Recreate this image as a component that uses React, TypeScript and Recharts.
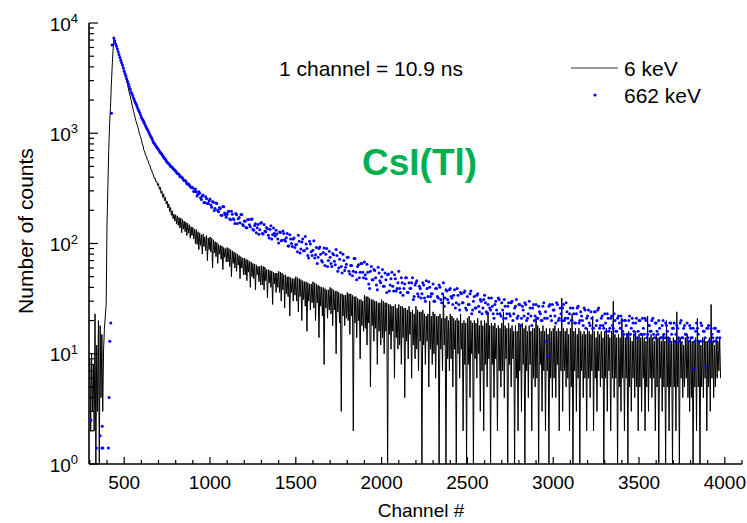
import React from 'react';
import { ComposedChart, Line, Scatter, XAxis, YAxis, Legend } from 'recharts';

const FONT = '"Liberation Sans", Arial, Helvetica, sans-serif';

// 6 keV trace: one reading every 5 channels from channel 300
const LOW_START = 300;
const LOW_STEP = 5;
const lowEnergyCounts = [
  9, 2, 10, 3, 8, 2, 23, 1, 12, 3, 20, 1, 18, 4, 15, 3, 11, 17, 22, 28,
  150, 330, 700, 1200, 1700, 2700, 4000, 5600, 7100, 6900, 6400, 6050, 5760, 5450, 5200, 4950, 4680, 4450, 4200, 3970,
  3750, 3450, 3180, 2950, 2750, 2520, 2320, 2170, 2010, 1840, 1690, 1580, 1470, 1360, 1270, 1200, 1130, 1050, 980, 930,
  880, 800, 770, 700, 675, 625, 620, 570, 565, 520, 515, 470, 468, 428, 425, 390, 392, 362, 365, 336,
  350, 310, 325, 285, 300, 262, 282, 245, 262, 228, 243, 210, 228, 195, 212, 180, 198, 168, 185, 160,
  182, 150, 178, 146, 172, 138, 170, 125, 165, 135, 160, 128, 156, 118, 152, 124, 148, 112, 142, 118,
  140, 110, 135, 100, 134, 98, 128, 88, 125, 96, 120, 80, 122, 94, 115, 86, 118, 70, 112, 88,
  115, 84, 112, 60, 108, 82, 104, 76, 102, 66, 98, 80, 96, 72, 95, 58, 92, 75, 90, 68,
  92, 68, 90, 62, 88, 50, 86, 66, 84, 60, 82, 56, 80, 64, 78, 48, 76, 60, 74, 52,
  74, 52, 72, 46, 71, 55, 69, 40, 68, 50, 66, 48, 65, 38, 64, 52, 62, 45, 62, 42,
  63, 42, 62, 38, 61, 46, 58, 32, 58, 44, 57, 40, 56, 28, 55, 43, 54, 36, 54, 40,
  56, 36, 55, 30, 54, 38, 52, 26, 52, 35, 50, 33, 50, 22, 49, 36, 48, 30, 48, 34,
  50, 30, 49, 24, 48, 33, 47, 20, 46, 31, 45, 27, 45, 16, 44, 30, 43, 25, 43, 29,
  45, 26, 44, 20, 43, 29, 42, 14, 41, 27, 40, 22, 40, 8, 39, 26, 38, 21, 38, 25,
  40, 23, 39, 18, 38, 25, 37, 10, 37, 24, 36, 19, 35, 3, 35, 22, 34, 18, 34, 21,
  36, 20, 35, 15, 35, 22, 34, 2, 33, 19, 33, 14, 32, 20, 31, 9, 31, 18, 30, 16,
  34, 17, 33, 12, 33, 19, 32, 5, 31, 18, 31, 13, 30, 17, 30, 8, 29, 16, 29, 12,
  31, 14, 30, 10, 29, 16, 29, 1, 28, 15, 28, 11, 27, 16, 27, 6, 28, 14, 26, 11,
  28, 12, 27, 8, 27, 14, 26, 4, 26, 13, 25, 9, 27, 15, 24, 6, 25, 12, 23, 9,
  27, 11, 25, 7, 24, 13, 24, 1, 25, 12, 23, 8, 22, 13, 23, 5, 30, 11, 22, 8,
  24, 10, 23, 6, 22, 12, 22, 1, 23, 11, 21, 7, 35, 12, 21, 1, 22, 9, 20, 7,
  23, 9, 22, 5, 21, 11, 20, 1, 21, 10, 20, 6, 23, 11, 19, 2, 20, 8, 19, 1,
  21, 8, 22, 4, 20, 10, 19, 1, 20, 9, 19, 6, 21, 10, 18, 3, 20, 7, 18, 2,
  20, 8, 19, 5, 24, 9, 18, 1, 19, 8, 18, 4, 19, 9, 17, 2, 18, 7, 17, 5,
  19, 7, 24, 4, 18, 9, 17, 1, 19, 8, 17, 5, 18, 9, 16, 1, 18, 6, 16, 2,
  19, 7, 18, 3, 19, 8, 17, 1, 18, 7, 16, 4, 18, 8, 16, 2, 17, 6, 17, 5,
  21, 6, 18, 1, 17, 8, 16, 3, 18, 7, 16, 2, 17, 7, 15, 1, 17, 6, 16, 4,
  17, 6, 18, 4, 16, 8, 17, 2, 16, 7, 32, 3, 17, 7, 16, 5, 17, 6, 15, 2,
  17, 5, 23, 1, 16, 7, 17, 3, 15, 6, 17, 1, 16, 7, 15, 4, 16, 6, 15, 2,
  17, 6, 16, 4, 15, 7, 22, 2, 16, 6, 14, 3, 16, 7, 15, 5, 16, 6, 14, 1,
  16, 6, 17, 3, 15, 7, 14, 2, 16, 6, 30, 4, 15, 6, 14, 1, 15, 5, 14, 3,
  21, 6, 15, 2, 14, 6, 15, 1, 16, 5, 14, 3, 13, 6, 15, 4, 16, 5, 14, 2,
  15, 5, 14, 3, 15, 6, 14, 2, 13, 5, 22, 3, 14, 6, 15, 4, 14, 6, 13, 2,
  15, 5, 14, 1, 14, 6, 13, 3, 15, 5, 13, 1, 20, 5, 14, 2, 14, 5, 13, 1,
  14, 5, 13, 2, 24, 5, 14, 1, 14, 6, 13, 4, 12, 5, 14, 6, 15, 4, 13, 3,
  14, 4, 13, 1, 13, 5, 14, 2, 21, 5, 13, 1, 12, 5, 14, 4, 14, 6, 13, 2,
  13, 5, 14, 3, 28, 6, 13, 4, 12, 5, 14, 6, 13, 7, 14, 6,
];

// 662 keV: stray points before the peak
const highEarlyChannels = [306, 339, 360, 370, 372, 376, 408, 412, 416, 422, 426, 429];
const highEarlyCounts = [2.5, 1.4, 1.8, 1.4, 2.2, 1.4, 1.4, 4, 13, 19, 1520, 6300];

// 662 keV: points at channels 440, 450, 460 ...
const HIGH_START = 440;
const HIGH_STEP = 10;
const highEnergyCounts = [
  7300, 6500, 5850, 5150, 4600, 4150, 3650, 3300, 2950, 2650,
  2370, 2190, 1980, 1830, 1670, 1540, 1400, 1310, 1210, 1120,
  1050, 965, 905, 830, 790, 745, 710, 670, 645, 605,
  580, 545, 530, 505, 492, 468, 455, 432, 422, 400,
  392, 372, 365, 345, 340, 322, 318, 300, 295, 280,
  286, 251, 275, 236, 255, 230, 253, 213, 237, 208,
  231, 194, 208, 180, 215, 181, 184, 196, 164, 184,
  164, 187, 152, 172, 183, 149, 160, 139, 165, 148,
  166, 135, 146, 125, 149, 133, 155, 122, 130, 140,
  119, 135, 110, 138, 117, 122, 101, 126, 107, 123,
  105, 123, 95, 110, 94, 112, 98, 84, 105, 89,
  110, 86, 99, 78, 105, 84, 87, 74, 92, 75,
  93, 70, 83, 63, 90, 70, 75, 62, 79, 64,
  78, 60, 83, 54, 70, 61, 75, 56, 63, 51,
  73, 55, 62, 49, 66, 55, 68, 48, 55, 39,
  62, 47, 57, 42, 61, 46, 50, 41, 54, 36,
  53, 42, 55, 37, 48, 39, 56, 36, 44, 39,
  49, 36, 44, 39, 49, 33, 44, 35, 41, 32,
  44, 32, 46, 33, 40, 35, 43, 30, 39, 32,
  40, 29, 44, 32, 37, 29, 39, 32, 34, 26,
  39, 28, 36, 29, 36, 26, 33, 28, 37, 25,
  33, 26, 35, 24, 30, 26, 34, 24, 28, 26,
  32, 23, 28, 25, 32, 23, 29, 21, 27, 23,
  29, 22, 30, 23, 27, 21, 28, 18, 27, 22,
  28, 21, 30, 22, 26, 20, 28, 21, 24, 20,
  27, 21, 13, 9.6, 28, 20, 25, 22, 29, 20,
  26, 20, 28, 21, 24, 19, 26, 20, 23, 19,
  26, 19, 24, 20, 26, 17, 22, 19, 24, 17,
  24, 18, 25, 17, 21, 18, 23, 16, 21, 17,
  22, 17, 20, 16, 22, 17, 20, 15, 20, 15,
  20, 15, 21, 16, 19, 14, 20, 15, 21, 15,
  20, 15, 18, 16, 21, 14, 19, 15, 17, 14,
  20, 14, 18, 14, 19, 15, 17, 13, 18, 14,
  19, 14, 17, 15, 19, 13, 17, 14, 7.3, 16,
  17, 13, 19, 13, 16, 7.6, 17, 13, 17, 14,
  17, 13, 16, 14,
];

// 662 keV: points in between, channels 445, 455, 465 ...
const HIGH_MID_START = 445;
const highMidCounts = [
  6900, 6200, 5500, 4870, 4370, 3900, 3470, 3120, 2800, 2510,
  2280, 2080, 1900, 1750, 1600, 1470, 1350, 1260, 1165, 1085,
  1005, 935, 870, 810, 765, 728, 690, 657, 625, 592,
  562, 538, 518, 498, 480, 462,
  440, 430, 405, 400, 378, 372, 350, 347, 328, 323,
  296, 312, 270, 294, 260, 270, 236, 265, 230, 244,
  224, 240, 199, 233, 200, 212, 180, 217, 189, 173,
  194, 167, 196, 168, 152, 182, 168, 154, 183, 145,
  159, 139, 165, 142, 167, 132, 151, 139, 121, 153,
  123, 149, 128, 136, 112, 145, 120, 124, 132, 110,
  127, 106, 130, 108, 113, 95, 120, 100, 110, 92,
  98, 119, 82, 103, 86, 116, 90, 74, 99, 78,
  106, 79, 66, 90, 80, 68, 91, 80, 62, 85,
  66, 81, 69, 88, 56, 72, 62, 80, 57, 65,
  75, 53, 63, 56, 73, 47, 64, 55, 66, 49,
  52, 65, 43, 56, 47, 58, 49, 38, 54, 44,
  58, 41, 47, 52, 37, 48, 41, 52, 37, 44,
  39, 49, 34, 43, 49, 36, 39, 44, 31, 42,
  46, 33, 39, 35, 42, 30, 39, 45, 33, 35,
  30, 39, 33, 42, 31, 35, 27, 38, 31, 38,
  33, 28, 38, 29, 34, 25, 35, 29, 37, 25,
  28, 35, 23, 30, 26, 34, 27, 31, 23, 31,
  29, 23, 32, 25, 27, 21, 30, 23, 31, 22,
  25, 31, 21, 27, 23, 29, 20, 26, 31, 22,
  28, 21, 25, 29, 20, 23, 26, 18, 28, 22,
  21, 27, 23, 20, 29, 24, 21, 27, 22, 28,
  25, 19, 28, 21, 23, 26, 20, 29, 21, 23,
  20, 26, 19, 23, 27, 20, 22, 18, 25, 21,
  25, 18, 21, 17, 24, 20, 26, 18, 22, 17,
  19, 23, 16, 21, 18, 23, 16, 21, 19, 22,
  16, 20, 18, 14, 22, 17, 19, 15, 21, 16,
  20, 15, 17, 21, 14, 18, 16, 20, 15, 19,
  16, 20, 14, 18, 15, 19, 16, 13, 19, 17,
  19, 15, 17, 13, 20, 14, 18, 15, 14, 18,
  14, 17, 13, 19, 15, 13, 18, 16, 14, 17,
  18, 13, 15, 13, 17, 14, 16,
];

const xTicks = [
  300, 400, 500, 600, 700, 800, 900, 1000, 1100, 1200, 1300, 1400, 1500,
  1600, 1700, 1800, 1900, 2000, 2100, 2200, 2300, 2400, 2500, 2600, 2700,
  2800, 2900, 3000, 3100, 3200, 3300, 3400, 3500, 3600, 3700, 3800, 3900,
  4000, 4100,
];
const yTicks = [
  1, 2, 3, 4, 5, 6, 7, 8, 9,
  10, 20, 30, 40, 50, 60, 70, 80, 90,
  100, 200, 300, 400, 500, 600, 700, 800, 900,
  1000, 2000, 3000, 4000, 5000, 6000, 7000, 8000, 9000,
  10000,
];

const lowData = lowEnergyCounts.map((counts, i) => ({ ch: LOW_START + i * LOW_STEP, counts }));
const highData = [
  ...highEarlyChannels.map((ch, i) => ({ ch, counts: highEarlyCounts[i] })),
  ...highEnergyCounts.map((counts, i) => ({ ch: HIGH_START + i * HIGH_STEP, counts })),
  ...highMidCounts.map((counts, i) => ({ ch: HIGH_MID_START + i * HIGH_STEP, counts })),
];

const isDecade = (v: number) => Math.abs(Math.log10(v) - Math.round(Math.log10(v))) < 1e-9;

const BottomTick = ({ x, y, payload }: any) => {
  const major = payload.value % 500 === 0;
  return (
    <g>
      <line x1={x} x2={x} y1={y} y2={y - (major ? 7 : 4)} stroke="#000" strokeWidth={1.2} />
      {major && (
        <text x={x} y={y + 25} textAnchor="middle" fontSize={19} fontFamily={FONT} fill="#000">
          {payload.value}
        </text>
      )}
    </g>
  );
};

const TopTick = ({ x, y, payload }: any) => {
  const major = payload.value % 500 === 0;
  return <line x1={x} x2={x} y1={y} y2={y + (major ? 6 : 3.5)} stroke="#000" strokeWidth={1.2} />;
};

const LeftTick = ({ x, y, payload }: any) => {
  const major = isDecade(payload.value);
  return (
    <g>
      <line x1={x} x2={x + (major ? 9 : 5)} y1={y} y2={y} stroke="#000" strokeWidth={1.2} />
      {major && (
        <text x={x - 11} y={y + 7.5} textAnchor="end" fontSize={19} fontFamily={FONT} fill="#000">
          10
          <tspan dy={-7.5} fontSize={13}>
            {Math.round(Math.log10(payload.value))}
          </tspan>
        </text>
      )}
    </g>
  );
};

const RightTick = ({ x, y, payload }: any) => {
  const major = isDecade(payload.value);
  return <line x1={x} x2={x - (major ? 7 : 3.5)} y1={y} y2={y} stroke="#000" strokeWidth={1.2} />;
};

const BlueDot = (p: any) => <circle cx={p.cx} cy={p.cy} r={1.5} fill="#0000ff" />;

const LegendContent = ({ payload }: any) => (
  <svg width={150} height={50} style={{ overflow: 'visible' }}>
    {(payload || []).map((entry: any, i: number) => {
      const cy = 8 + i * 27;
      return (
        <g key={entry.value}>
          {entry.type === 'line' ? (
            <line x1={0} x2={47} y1={cy} y2={cy} stroke="#000" strokeWidth={0.8} />
          ) : (
            <circle cx={24} cy={cy} r={1.6} fill="#0000ff" />
          )}
          <text x={53} y={cy + 8} fontSize={21} fontFamily={FONT} fill="#000">
            {entry.value}
          </text>
        </g>
      );
    })}
  </svg>
);

const axisLine = { stroke: '#000', strokeWidth: 1.6 };

export default function App() {
  return (
    <div style={{ position: 'absolute', left: 0, top: 0, width: 747, height: 523, background: '#fff' }}>
      <ComposedChart width={747} height={523} margin={{ top: 23, right: 5, bottom: 0, left: 0 }}>
        <XAxis
          dataKey="ch"
          type="number"
          domain={[295, 4100]}
          ticks={xTicks}
          interval={0}
          allowDataOverflow
          height={59}
          tickSize={0}
          tickMargin={0}
          tickLine={false}
          axisLine={axisLine}
          tick={(p: any) => <BottomTick {...p} />}
        />
        <XAxis
          xAxisId="top"
          orientation="top"
          type="number"
          domain={[295, 4100]}
          ticks={xTicks}
          interval={0}
          allowDataOverflow
          height={0}
          tickSize={0}
          tickMargin={0}
          tickLine={false}
          axisLine={axisLine}
          tick={(p: any) => <TopTick {...p} />}
        />
        <YAxis
          dataKey="counts"
          type="number"
          scale="log"
          domain={[1, 10000]}
          ticks={yTicks}
          interval={0}
          allowDataOverflow
          width={89}
          tickSize={0}
          tickMargin={0}
          tickLine={false}
          axisLine={axisLine}
          tick={(p: any) => <LeftTick {...p} />}
        />
        <YAxis
          yAxisId="right"
          orientation="right"
          type="number"
          scale="log"
          domain={[1, 10000]}
          ticks={yTicks}
          interval={0}
          allowDataOverflow
          width={0}
          tickSize={0}
          tickMargin={0}
          tickLine={false}
          axisLine={axisLine}
          tick={(p: any) => <RightTick {...p} />}
        />
        <Line
          data={lowData}
          dataKey="counts"
          name="6 keV"
          type="linear"
          stroke="#000"
          strokeWidth={1}
          dot={false}
          legendType="line"
          isAnimationActive={false}
        />
        <Scatter
          data={highData}
          dataKey="counts"
          name="662 keV"
          fill="#0000ff"
          shape={BlueDot}
          legendType="circle"
          isAnimationActive={false}
        />
        <Legend
          layout="vertical"
          align="center"
          verticalAlign="middle"
          wrapperStyle={{ left: 571, top: 60, width: 150, height: 50 }}
          content={LegendContent}
        />
      </ComposedChart>
      <svg
        width={747}
        height={523}
        style={{ position: 'absolute', left: 0, top: 0, pointerEvents: 'none' }}
      >
        <text x={279} y={76} fontSize={21} fontFamily={FONT} fill="#000">
          1 channel = 10.9 ns
        </text>
        <text x={362} y={175} fontSize={37} fontWeight="bold" fontFamily={FONT} fill="#00b050">
          CsI(Tl)
        </text>
        <text x={421} y={517} textAnchor="middle" fontSize={19} fontFamily={FONT} fill="#000">
          Channel #
        </text>
        <text
          transform="translate(33,231) rotate(-90)"
          textAnchor="middle"
          fontSize={21}
          fontFamily={FONT}
          fill="#000"
        >
          Number of counts
        </text>
      </svg>
    </div>
  );
}
